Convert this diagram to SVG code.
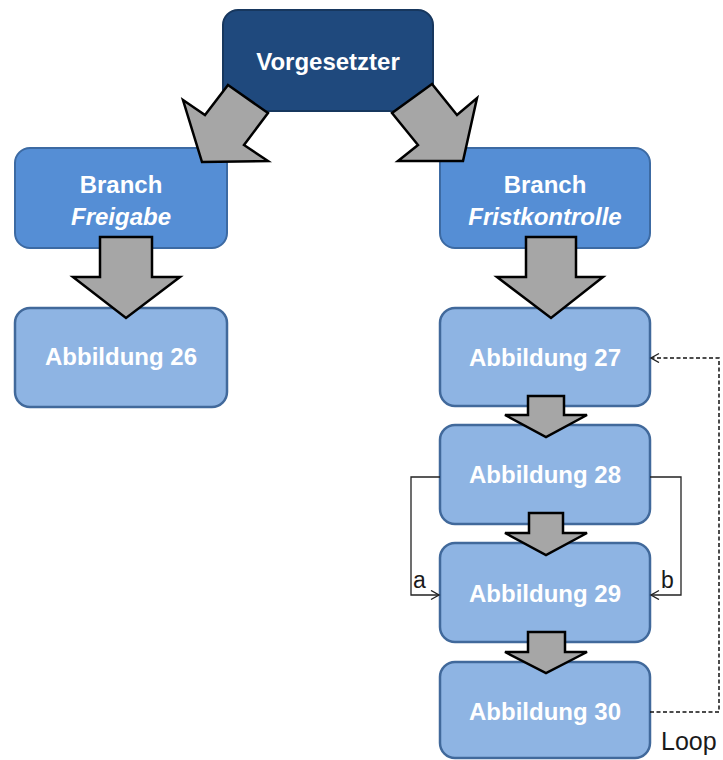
<svg xmlns="http://www.w3.org/2000/svg" width="723" height="760" viewBox="0 0 723 760">
  <style>
    .lbl { font-family: "Liberation Sans", Arial, sans-serif; font-size: 24px; font-weight: bold; fill: #ffffff; text-anchor: middle; }
    .it { font-style: italic; }
    .top { fill: #1f497d; stroke: #17375e; stroke-width: 2; }
    .branch { fill: #558ed5; stroke: #3c6aa3; stroke-width: 2; }
    .step { fill: #8eb4e3; stroke: #41699b; stroke-width: 2.5; }
    .flow { fill: #a6a6a6; stroke: #000000; stroke-width: 2.5; stroke-linejoin: miter; }
    .link { fill: none; stroke: #222222; stroke-width: 1.3; }
    .loop { fill: none; stroke: #111111; stroke-width: 1.5; stroke-dasharray: 4 2.5; }
    .note { font-family: "Liberation Sans", Arial, sans-serif; font-size: 23px; fill: #1a1a1a; }
  </style>
  <defs>
    <marker id="open" markerUnits="userSpaceOnUse" markerWidth="12" markerHeight="12" refX="9" refY="5" orient="auto">
      <path d="M1,0.5 L9,5 L1,9.5" fill="none" stroke="#222222" stroke-width="1.4"/>
    </marker>
  </defs>

  <!-- nodes -->
  <g id="vorgesetzter">
    <rect class="top" x="223" y="10" width="210" height="101" rx="15"/>
    <text class="lbl" x="328" y="70">Vorgesetzter</text>
  </g>
  <g id="branch-freigabe">
    <rect class="branch" x="15" y="148" width="212" height="100" rx="15"/>
    <text class="lbl" x="121" y="193">Branch</text>
    <text class="lbl it" x="121" y="225">Freigabe</text>
  </g>
  <g id="branch-fristkontrolle">
    <rect class="branch" x="440" y="148" width="210" height="100" rx="15"/>
    <text class="lbl" x="545" y="193">Branch</text>
    <text class="lbl it" x="545" y="225">Fristkontrolle</text>
  </g>
  <g id="abbildung-26">
    <rect class="step" x="15" y="308" width="212" height="99" rx="15"/>
    <text class="lbl" x="121" y="365">Abbildung 26</text>
  </g>
  <g id="abbildung-27">
    <rect class="step" x="440" y="308" width="210" height="98" rx="15"/>
    <text class="lbl" x="545" y="366">Abbildung 27</text>
  </g>
  <g id="abbildung-28">
    <rect class="step" x="440" y="425" width="210" height="99" rx="15"/>
    <text class="lbl" x="545" y="483">Abbildung 28</text>
  </g>
  <g id="abbildung-29">
    <rect class="step" x="440" y="543" width="210" height="99" rx="15"/>
    <text class="lbl" x="545" y="602">Abbildung 29</text>
  </g>
  <g id="abbildung-30">
    <rect class="step" x="440" y="662" width="210" height="96" rx="15"/>
    <text class="lbl" x="545" y="720">Abbildung 30</text>
  </g>

  <!-- connectors -->
  <g id="connectors">
    <!-- block arrows -->
    <polygon class="flow" points="228,85 268,113 244,145 268,161 202,162 183,100 205,115"/>
    <polygon class="flow" points="432,84 392,113 418,145 398,161 463,161 477,98 457,115"/>
    <polygon class="flow" points="100,237 152,237 152,277 180,277 126,318 73,277 100,277"/>
    <polygon class="flow" points="526,237 576,237 576,277 603,277 551,318 497,277 526,277"/>
    <polygon class="flow" points="528,396 564,396 564,415 587,415 546,437 505,415 528,415"/>
    <polygon class="flow" points="529,513 563,513 563,533 587,533 546,555 505,533 529,533"/>
    <polygon class="flow" points="528,632 565,632 565,652 587,652 546,673 505,652 528,652"/>

    <!-- branch a / b -->
    <path class="link" d="M440,477 H411 V595 H439" marker-end="url(#open)"/>
    <path class="link" d="M650,477 H681 V595 H651" marker-end="url(#open)"/>
    <text class="note" x="413" y="588">a</text>
    <text class="note" x="661" y="588">b</text>

    <!-- loop back -->
    <path class="loop" d="M650,712 H719 V358 H651" marker-end="url(#open)"/>
    <text class="note" x="661" y="750" style="font-size:25px">Loop</text>
  </g>
</svg>
